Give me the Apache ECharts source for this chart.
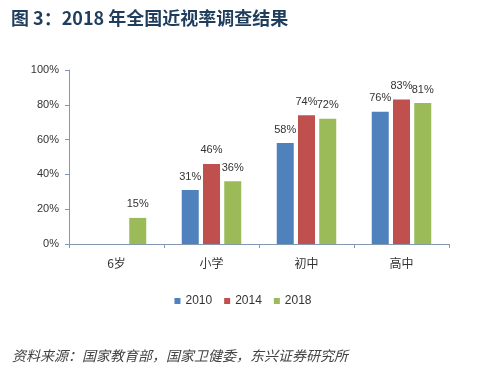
<!DOCTYPE html>
<html><head><meta charset="utf-8">
<script src="https://cdn.jsdelivr.net/npm/echarts@6/dist/echarts.min.js"></script>
<style>html,body{margin:0;padding:0;background:#fff;}#c{width:486px;height:378px;}</style>
</head><body><div id="c"></div>
<script>
const categories = ['6岁', '小学', '初中', '高中'];
const seriesNames = ['2010', '2014', '2018'];
const values2010 = [null, 31, 58, 76];
const values2014 = [null, 46, 74, 83];
const values2018 = [15, 36, 72, 81];
const yTicks = [0, 20, 40, 60, 80, 100];
const colors = ['#4f81bd', '#c0504d', '#9bbb59'];

const chart = echarts.init(document.getElementById('c'));
const allValues = [values2010, values2014, values2018];
chart.setOption({
  backgroundColor: '#fff',
  animation: false,
  title: [{
    text: '图 3：2018 年全国近视率调查结果',
    left: 6, top: 4,
    textStyle: { fontSize: 18, fontWeight: 'bold', color: '#1f3d5c', fontFamily: '"Noto Sans CJK SC", sans-serif' }
  }, {
    text: '资料来源：国家教育部，国家卫健委，东兴证券研究所',
    left: 7, top: 344,
    textStyle: { fontSize: 14, fontWeight: 'normal', fontStyle: 'italic', color: '#444', fontFamily: '"Noto Sans CJK SC", sans-serif' }
  }],
  legend: {
    data: seriesNames,
    top: 290, left: 'center',
    icon: 'rect', itemWidth: 6, itemHeight: 6, itemGap: 12,
    textStyle: { fontSize: 12, color: '#333', fontFamily: 'Arial, "Liberation Sans", sans-serif' }
  },
  grid: { left: 69, right: 37, top: 70, bottom: 134 },
  xAxis: {
    type: 'category', data: categories,
    axisLine: { lineStyle: { color: '#8497b0', width: 1 } },
    axisTick: { show: true, length: 4, lineStyle: { color: '#8497b0' } },
    axisLabel: { fontSize: 12, color: '#333', margin: 13, fontFamily: '"Noto Sans CJK SC", sans-serif' }
  },
  yAxis: {
    type: 'value', min: yTicks[0], max: yTicks[yTicks.length - 1], interval: 20,
    axisLine: { show: true, lineStyle: { color: '#8497b0', width: 1 } },
    axisTick: { show: true, length: 4, lineStyle: { color: '#8497b0' } },
    splitLine: { show: false },
    axisLabel: { fontSize: 11, color: '#333', margin: 10, formatter: '{value}%', fontFamily: 'Arial, "Liberation Sans", sans-serif' }
  },
  series: seriesNames.map((name, i) => ({
    name, type: 'bar', data: allValues[i],
    barWidth: 17, barGap: '25%',
    itemStyle: { color: colors[i] },
    label: { show: true, position: 'top', distance: 8, formatter: '{c}%', fontSize: 11, color: '#333', fontFamily: 'Arial, "Liberation Sans", sans-serif' }
  }))
});
</script></body></html>
